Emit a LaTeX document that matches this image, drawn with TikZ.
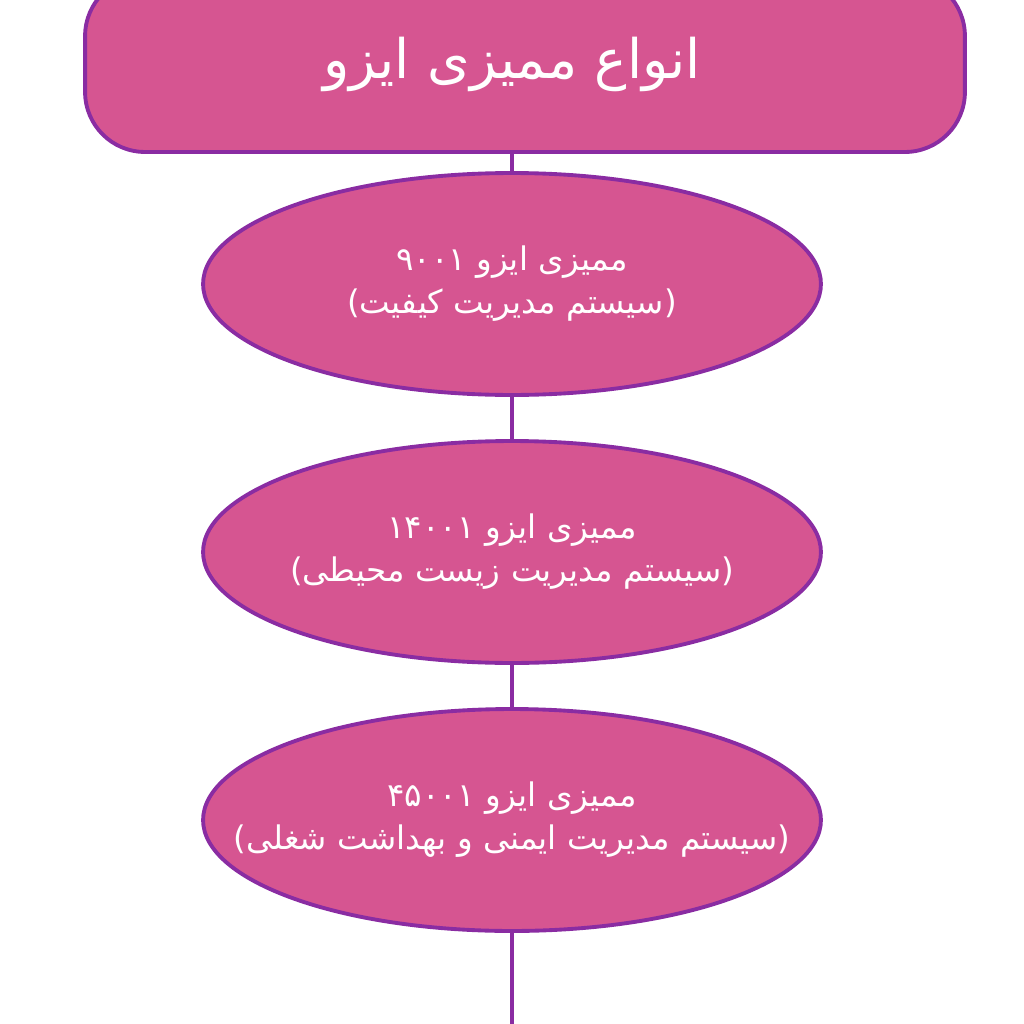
\documentclass[tikz,border=0pt]{standalone}
\usepackage{fontspec}
\newfontfamily\arabicfont[Script=Arabic]{DejaVu Sans}
\newfontfamily\parenfont{DejaVu Sans}
\TeXXeTstate=1
\usetikzlibrary{shapes.geometric}
\definecolor{isopink}{HTML}{D65591}
\definecolor{isopurple}{HTML}{8A2CA2}
\tikzset{
  >=latex,
}
\tikzstyle{titlebox}=[draw=isopurple,line width=2.2pt,fill=isopink,rounded corners=1.2cm,
  minimum width=17.6cm,minimum height=3.52cm]
\tikzstyle{titletext}=[text=white,font=\arabicfont\fontsize{31}{36}\selectfont]
\tikzstyle{standard}=[ellipse,draw=isopurple,line width=2.2pt,fill=isopink,
  minimum width=12.36cm,minimum height=4.44cm,inner sep=0pt]
\tikzstyle{standardtext}=[text=white,align=center,
  font=\arabicfont\fontsize{18.5}{24.5}\selectfont]
\tikzstyle{link}=[isopurple,line width=1.8pt]
\newcommand{\lp}{{\parenfont(}}
\newcommand{\rp}{{\parenfont)}}

\begin{document}
\begin{tikzpicture}[x=0.02cm,y=-0.02cm]
    \useasboundingbox (0,0) rectangle (1024,1024);
    \clip (0,0) rectangle (1024,1024);

    \node[titlebox,label={[titletext,xshift=-0.26cm]center:\beginR انواع ممیزی ایزو\endR}]
      (title) at (525,64) {};
    \node[standard,label={[standardtext]center:{\beginR ممیزی ایزو ۹۰۰۱\endR\\\lp\beginR سیستم مدیریت کیفیت\endR\rp}}]
      (iso9001) at (512,284) {};
    \node[standard,label={[standardtext]center:{\beginR ممیزی ایزو ۱۴۰۰۱\endR\\\lp\beginR سیستم مدیریت زیست محیطی\endR\rp}}]
      (iso14001) at (512,552) {};
    \node[standard,label={[standardtext]center:{\beginR ممیزی ایزو ۴۵۰۰۱\endR\\\lp\beginR سیستم مدیریت ایمنی و بهداشت شغلی\endR\rp}}]
      (iso45001) at (512,820) {};
    \coordinate (tail) at (512,1040);

    \draw[link] (title.south -| iso9001) -- (iso9001);
    \draw[link] (iso9001) -- (iso14001);
    \draw[link] (iso14001) -- (iso45001);
    \draw[link] (iso45001) -- (tail);
  \end{tikzpicture}
\end{document}
